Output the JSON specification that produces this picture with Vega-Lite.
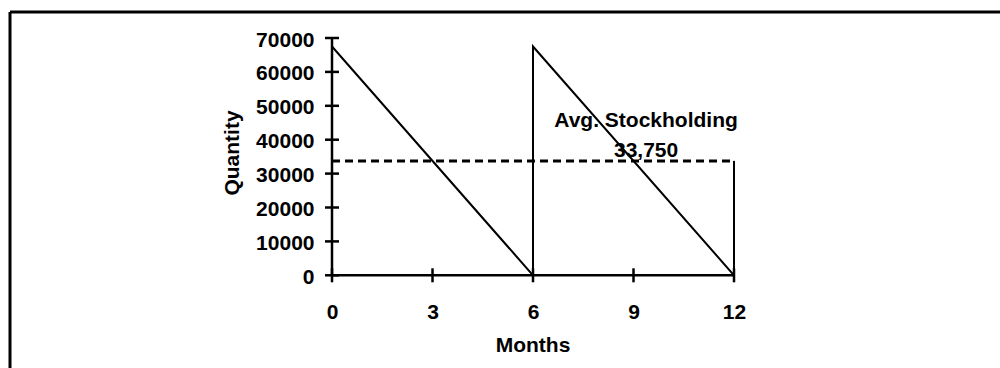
{
  "$schema": "https://vega.github.io/schema/vega-lite/v6.json",
  "width": 990,
  "height": 356,
  "autosize": {"type": "none"},
  "padding": {"left": 10, "top": 12, "right": 0, "bottom": 0},
  "background": "white",
  "config": {
    "view": {"stroke": null},
    "axis": {"labelFont": "Liberation Sans", "labelFontWeight": "bold", "labelFontSize": 21, "labelColor": "black"},
    "text": {"font": "Liberation Sans", "fontWeight": "bold", "fontSize": 21, "color": "black"}
  },
  "datasets": {
    "frame": [
      {"x": -9.612, "y": -27345, "x2": -9.612, "y2": 77670},
      {"x": -9.612, "y": 77670, "x2": 19.94, "y2": 77670}
    ],
    "axislines": [
      {"x": 0, "y": 0, "x2": 12, "y2": 0},
      {"x": 0, "y": 0, "x2": 0, "y2": 70000}
    ],
    "yticks": [
      {"x": 0, "y": 0}, {"x": 0, "y": 10000}, {"x": 0, "y": 20000}, {"x": 0, "y": 30000},
      {"x": 0, "y": 40000}, {"x": 0, "y": 50000}, {"x": 0, "y": 60000}, {"x": 0, "y": 70000}
    ],
    "xticks": [
      {"x": 0, "y": 0}, {"x": 3, "y": 0}, {"x": 6, "y": 0}, {"x": 9, "y": 0}, {"x": 12, "y": 0}
    ],
    "stock": [
      {"x": 0, "y": 67500, "o": 1},
      {"x": 6, "y": 0, "o": 2},
      {"x": 6, "y": 67500, "o": 3},
      {"x": 12, "y": 0, "o": 4}
    ],
    "avg": [
      {"x": 0, "y": 33750, "x2": 12, "y2": 33750}
    ],
    "drop": [
      {"x": 12, "y": 33750, "x2": 12, "y2": 0}
    ],
    "notes": [
      {"x": 9.375, "y": 43658, "label": "Avg. Stockholding", "angle": 0},
      {"x": 9.375, "y": 34985, "label": "33,750", "angle": 0},
      {"x": 6, "y": -22500, "label": "Months", "angle": 0},
      {"x": -2.776, "y": 36077, "label": "Quantity", "angle": 270}
    ]
  },
  "encoding": {
    "x": {
      "field": "x", "type": "quantitative",
      "scale": {"domain": [-9.612, 19.94], "nice": false, "zero": false},
      "axis": {"values": [0, 3, 6, 9, 12], "orient": "bottom", "offset": -92.7, "domain": false, "ticks": false, "grid": false, "labelPadding": 26, "labelFlush": false, "title": null}
    },
    "y": {
      "field": "y", "type": "quantitative",
      "scale": {"domain": [-27345, 77670], "nice": false, "zero": false},
      "axis": {"values": [0, 10000, 20000, 30000, 40000, 50000, 60000, 70000], "format": "d", "orient": "left", "offset": -322, "domain": false, "ticks": false, "grid": false, "labelPadding": 18, "labelOffset": 2, "title": null}
    }
  },
  "layer": [
    {
      "data": {"name": "frame"},
      "mark": {"type": "rule", "color": "black", "strokeWidth": 3},
      "encoding": {"x2": {"field": "x2"}, "y2": {"field": "y2"}}
    },
    {
      "data": {"name": "axislines"},
      "mark": {"type": "rule", "color": "black", "strokeWidth": 2.5},
      "encoding": {"x2": {"field": "x2"}, "y2": {"field": "y2"}}
    },
    {
      "data": {"name": "yticks"},
      "mark": {"type": "tick", "orient": "horizontal", "color": "black", "size": 14, "thickness": 2.5, "opacity": 1}
    },
    {
      "data": {"name": "xticks"},
      "mark": {"type": "tick", "orient": "vertical", "color": "black", "size": 14, "thickness": 2.5, "opacity": 1}
    },
    {
      "data": {"name": "stock"},
      "mark": {"type": "line", "color": "black", "strokeWidth": 2},
      "encoding": {"order": {"field": "o", "type": "quantitative"}}
    },
    {
      "data": {"name": "avg"},
      "mark": {"type": "rule", "color": "black", "strokeWidth": 3, "strokeDash": [8, 5]},
      "encoding": {"x2": {"field": "x2"}, "y2": {"field": "y2"}}
    },
    {
      "data": {"name": "drop"},
      "mark": {"type": "rule", "color": "black", "strokeWidth": 2},
      "encoding": {"x2": {"field": "x2"}, "y2": {"field": "y2"}}
    },
    {
      "data": {"name": "notes"},
      "mark": {"type": "text", "align": "center", "baseline": "alphabetic"},
      "encoding": {"text": {"field": "label"}, "angle": {"field": "angle", "type": "quantitative", "scale": null}}
    }
  ]
}
